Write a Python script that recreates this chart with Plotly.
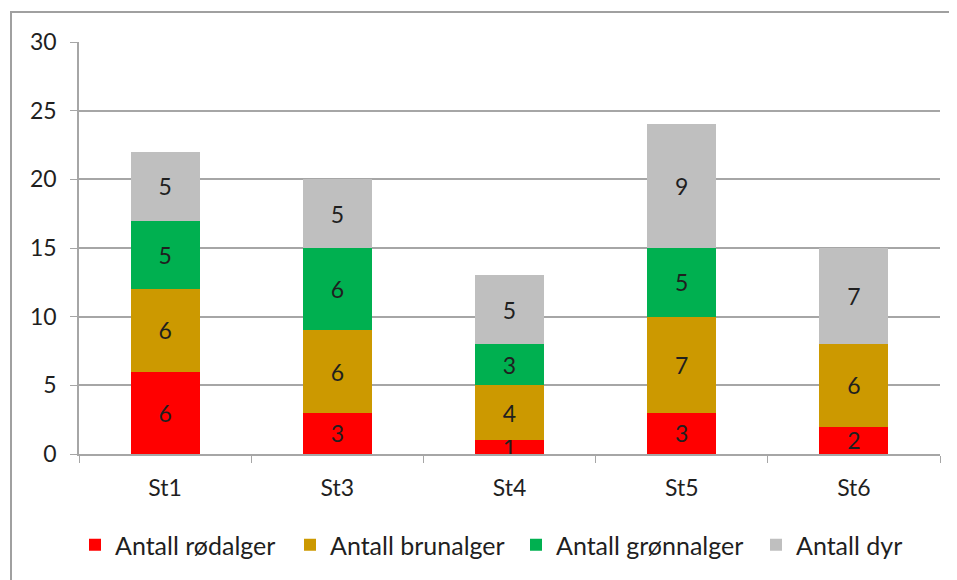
import plotly.graph_objects as go

categories = ["St1", "St3", "St4", "St5", "St6"]
rodalger = [6, 3, 1, 3, 2]
brunalger = [6, 6, 4, 7, 6]
gronnalger = [5, 6, 3, 5, 0]
dyr = [5, 5, 5, 9, 7]
series_names = ["Antall rødalger", "Antall brunalger", "Antall grønnalger", "Antall dyr"]
colors = ["#FF0000", "#CC9900", "#00B050", "#BFBFBF"]
y_ticks = [0, 5, 10, 15, 20, 25, 30]

FONT = "Lato, Calibri, Carlito, sans-serif"
TXT = "#1f1f1f"

# page body has an 8px margin; figure size/margins account for it
W, H = 949, 572
L, R, T, B = 71, 17, 34, 126
PW, PH = W - L - R, H - T - B

legend_ids = ["legend", "legend2", "legend3", "legend4"]
legend_left_px = [75, 290, 516, 756]  # screen px of legend box left edges

fig = go.Figure()
for name, vals, col, lid in zip(series_names, [rodalger, brunalger, gronnalger, dyr], colors, legend_ids):
    fig.add_trace(go.Bar(
        name=name, x=categories, y=vals, legend=lid,
        marker=dict(color=col, line=dict(width=0)),
        text=[str(v) if v else "" for v in vals],
        textposition="inside", insidetextanchor="middle", textangle=0,
        constraintext="none", cliponaxis=False,
        textfont=dict(family=FONT, size=23, color=TXT),
        hoverinfo="x+y+name",
    ))

legend_y = (454 - 545) / PH
legends = {}
for lid, lx in zip(legend_ids, legend_left_px):
    legends[lid] = dict(orientation="h", x=(lx - 8 - L) / PW, xanchor="left",
                        y=legend_y, yanchor="middle",
                        font=dict(family=FONT, size=25, color=TXT),
                        itemwidth=30, bgcolor="rgba(0,0,0,0)")

fig.update_layout(
    barmode="stack", bargap=0.6,
    width=W, height=H,
    margin=dict(l=L, r=R, t=T, b=B, autoexpand=False),
    paper_bgcolor="white", plot_bgcolor="white",
    font=dict(family=FONT, size=23, color=TXT),
    showlegend=True,
    xaxis=dict(showline=True, linecolor="#A6A6A6", linewidth=1.5, automargin=False,
               ticks="outside", ticklen=7, tickcolor="#A6A6A6", ticklabelstandoff=13,
               tickson="boundaries", tickfont=dict(size=23, color=TXT), showgrid=False),
    yaxis=dict(range=[0, 30], tickvals=y_ticks, showline=True, linecolor="#A6A6A6",
               linewidth=1.5, ticks="outside", ticklen=7, tickcolor="#A6A6A6",
               automargin=False, ticklabelstandoff=9,
               showgrid=True, gridcolor="#A6A6A6", gridwidth=1.5,
               tickfont=dict(size=23, color=TXT), zeroline=False),
    shapes=[dict(type="rect", xref="paper", yref="paper",
                 x0=(3 - L) / PW, x1=(970 - L) / PW,
                 y0=(446 - 600) / PH, y1=(446 - 4) / PH,
                 line=dict(color="#A0A0A0", width=2), layer="below")],
    **legends,
)

fig.write_html("out.html")
